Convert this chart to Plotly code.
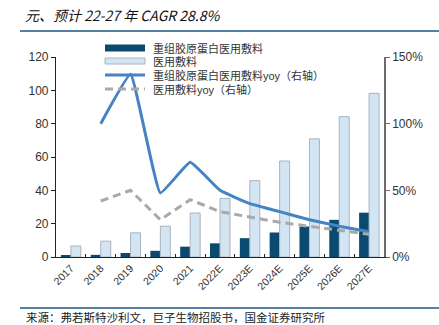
import plotly.graph_objects as go

years = ["2017", "2018", "2019", "2020", "2021", "2022E", "2023E", "2024E", "2025E", "2026E", "2027E"]
recomb = [0.8, 1.3, 2.4, 3.7, 6.2, 8.2, 11.3, 14.7, 18.3, 22.3, 26.6]
medical = [6.6, 9.5, 14.5, 18.5, 26.4, 35.2, 45.8, 57.6, 70.9, 84.2, 98.2]
recomb_yoy = [None, 100, 137, 48, 71, 50, 40, 34, 28, 23, 19]
medical_yoy = [None, 42, 50, 28, 43, 34, 30, 26, 23, 20, 17]

names = ["重组胶原蛋白医用敷料", "医用敷料", "重组胶原蛋白医用敷料yoy（右轴）", "医用敷料yoy（右轴）"]
title_text = "元、预计 22-27 年 CAGR 28.8%"
source_text = "来源：弗若斯特沙利文，巨子生物招股书，国金证券研究所"

DARK = "#0b4a70"
LIGHT = "#d3e4f3"
LIGHT_BORDER = "#aab4be"
BLUE = "#4683c3"
GRAY = "#a9a9a9"
FONT = "Liberation Sans, Noto Sans CJK SC, sans-serif"

fig = go.Figure()
fig.add_trace(go.Bar(x=years, y=recomb, name=names[0], marker=dict(color=DARK, line=dict(width=0)), showlegend=False))
fig.add_trace(go.Bar(x=years, y=medical, name=names[1], marker=dict(color=LIGHT, line=dict(color=LIGHT_BORDER, width=1)), showlegend=False))
fig.add_trace(go.Scatter(x=years, y=recomb_yoy, name=names[2], yaxis="y2", mode="lines",
                         line=dict(color=BLUE, width=3, shape="spline", smoothing=0.3), showlegend=False))
fig.add_trace(go.Scatter(x=years, y=medical_yoy, name=names[3], yaxis="y2", mode="lines",
                         line=dict(color=GRAY, width=3, dash="8px,5px"), showlegend=False))

W, H = 439, 325
L, R, T, B = 56, 55, 57, 68
pw, ph = W - L - R, H - T - B

def px(x):
    return (x - L) / pw

def py(y):
    return (H - B - y) / ph

shapes = []
annotations = []
# header / footer rules
for yy in (31, 308):
    shapes.append(dict(type="line", xref="paper", yref="paper", x0=px(20), x1=px(439), y0=py(yy), y1=py(yy),
                       line=dict(color="#1f5582", width=1.5)))
annotations.append(dict(text=title_text, xref="paper", yref="paper", x=px(23), y=py(15), xanchor="left", yanchor="middle",
                        showarrow=False, font=dict(family="Noto Sans CJK SC", size=14, color="#111111", style="italic")))
annotations.append(dict(text=source_text, xref="paper", yref="paper", x=px(24), y=py(317), xanchor="left", yanchor="middle",
                        showarrow=False, font=dict(family="Noto Sans CJK SC", size=11.5, color="#222222")))

# custom legend
rows = [48, 61, 75, 89]
sx0, sx1, tx = 105, 145, 151
shapes.append(dict(type="rect", xref="paper", yref="paper", x0=px(sx0), x1=px(sx1), y0=py(rows[0] - 3.5), y1=py(rows[0] + 3.5),
                   fillcolor=DARK, line=dict(width=0)))
shapes.append(dict(type="rect", xref="paper", yref="paper", x0=px(sx0), x1=px(sx1), y0=py(rows[1] - 3), y1=py(rows[1] + 3),
                   fillcolor=LIGHT, line=dict(color=LIGHT_BORDER, width=1)))
shapes.append(dict(type="line", xref="paper", yref="paper", x0=px(sx0), x1=px(sx1), y0=py(rows[2]), y1=py(rows[2]),
                   line=dict(color=BLUE, width=3)))
shapes.append(dict(type="line", xref="paper", yref="paper", x0=px(sx0), x1=px(sx1), y0=py(rows[3]), y1=py(rows[3]),
                   line=dict(color=GRAY, width=3, dash="8px,5px")))
for n, r in zip(names, rows):
    annotations.append(dict(text=n, xref="paper", yref="paper", x=px(tx), y=py(r), xanchor="left", yanchor="middle",
                            showarrow=False, font=dict(family=FONT, size=11, color="#333333")))

fig.update_layout(
    width=W, height=H,
    margin=dict(l=L, r=R, t=T, b=B),
    paper_bgcolor="white", plot_bgcolor="white",
    barmode="group", bargap=0.33, bargroupgap=0,
    font=dict(family=FONT, size=11, color="#333333"),
    xaxis=dict(type="category", range=[-0.5, 10.5], showline=True, linecolor="#222222", linewidth=1.2,
               ticks="inside", tickson="boundaries", ticklen=3, tickcolor="#222222",
               tickangle=-45, tickfont=dict(size=10.5, color="#333333"), showgrid=False, zeroline=False),
    yaxis=dict(range=[0, 120], dtick=20, showline=True, linecolor="#222222", linewidth=1.2,
               ticks="outside", ticklen=4, tickcolor="#222222", showgrid=False, zeroline=False,
               tickfont=dict(size=12, color="#333333")),
    yaxis2=dict(range=[0, 150], dtick=50, overlaying="y", side="right", showline=True, linecolor="#6b6b6b", linewidth=1.5,
                ticks="outside", ticklen=4, tickcolor="#6b6b6b", ticksuffix="%", showgrid=False, zeroline=False,
                tickfont=dict(size=12, color="#333333")),
    shapes=shapes, annotations=annotations,
)

fig.write_html("out.html")
